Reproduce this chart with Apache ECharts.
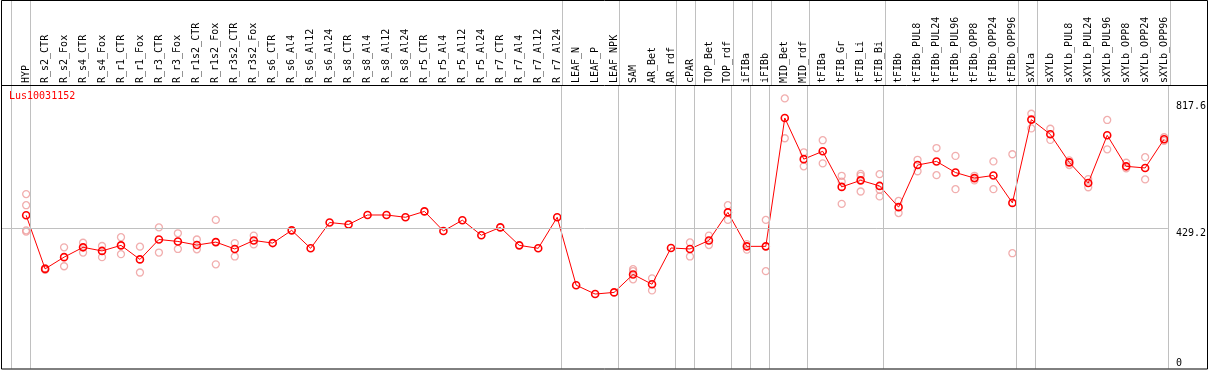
<!DOCTYPE html>
<html>
<head>
<meta charset="utf-8">
<script src="https://cdn.jsdelivr.net/npm/echarts@6/dist/echarts.min.js"></script>
<style>
html,body{margin:0;padding:0;background:#fff;}
#chart{width:1209px;height:370px;}
</style>
</head>
<body>
<div id="chart"></div>
<script>
const TITLE = 'Lus10031152';
const CATEGORIES = ['HYP','R_s2_CTR','R_s2_Fox','R_s4_CTR','R_s4_Fox','R_r1_CTR','R_r1_Fox','R_r3_CTR','R_r3_Fox',
  'R_r1s2_CTR','R_r1s2_Fox','R_r3s2_CTR','R_r3s2_Fox','R_s6_CTR','R_s6_Al4','R_s6_Al12','R_s6_Al24',
  'R_s8_CTR','R_s8_Al4','R_s8_Al12','R_s8_Al24','R_r5_CTR','R_r5_Al4','R_r5_Al12','R_r5_Al24',
  'R_r7_CTR','R_r7_Al4','R_r7_Al12','R_r7_Al24','LEAF_N','LEAF_P','LEAF_NPK','SAM','AR_Bet','AR_rdf',
  'cPAR','TOP_Bet','TOP_rdf','iFIBa','iFIBb','MID_Bet','MID_rdf','tFIBa','tFIB_Gr','tFIB_Li','tFIB_Bi',
  'tFIBb','tFIBb_PUL8','tFIBb_PUL24','tFIBb_PUL96','tFIBb_OPP8','tFIBb_OPP24','tFIBb_OPP96',
  'sXYLa','sXYLb','sXYLb_PUL8','sXYLb_PUL24','sXYLb_PUL96','sXYLb_OPP8','sXYLb_OPP24','sXYLb_OPP96'];
const MEAN_VALUES = [
  469, 305, 341, 371, 360, 377, 334, 395, 389, 378,
  387, 366, 392, 384, 423, 368, 447, 441, 470, 470,
  463, 481, 421, 454, 408, 432, 377, 368, 463, 255,
  228, 233, 288, 258, 369, 366, 392, 478, 374, 374,
  767, 641, 665, 556, 576, 559, 494, 623, 634, 600,
  583, 591, 507, 762, 717, 631, 568, 714, 619, 614,
  702];
const REPLICATES = [
  [534,500,423,419],[302,307],[371,313],[385,355],[375,341],[402,350],[373,294],[432,355],[414,366],[395,365],
  [455,319],[384,343],[407,380],[],[],[],[],[],[],[],
  [],[],[],[],[],[],[],[],[],[],
  [],[],[304,298,273],[276,239],[],[386,343],[407,378],[500,455],[381,364],[455,298],
  [827,705],[662,619],[699,628],[590,572,504],[596,590,542],[595,547,527],[513,476],[639,604],[675,592],[651,549],
  [590,576],[634,549],[656,353],[780,735],[734,700],[637,623],[580,555],[761,671],[630,613],[647,579],
  [708,697]];
// column boundaries (group separators), in column units
const GROUP_BOUNDS = [0,1,29,32,35,36,38,39,40,42,46,53,54,61];
const Y_TICKS = [0, 429.2, 817.6];
const HLINE_VALUE = 429.2;

const OFF = 0.8;          // point offset inside its column
const XMIN = -10/19, XMAX = 61;
const YMAX = 868;
const FONT = 'DejaVu Sans Mono';
const GRAY = '#c0c0c0';

const meanData = MEAN_VALUES.map((v,i)=>[i+OFF, v]);
const repData = [];
REPLICATES.forEach((arr,i)=>arr.forEach(v=>repData.push([i+OFF, v])));

const sepLines = GROUP_BOUNDS.map(b=>({xAxis:b}));
const mlBase = {silent:true, symbol:['none','none'], label:{show:false}, animation:false,
  lineStyle:{color:GRAY, width:1, type:'solid'}, emphasis:{disabled:true}};

const chart = echarts.init(document.getElementById('chart'), null, {renderer:'canvas'});
chart.setOption({
  animation:false,
  backgroundColor:'#fff',
  title:{text:TITLE, left:9, top:91, padding:0,
    textStyle:{color:'#ff0000', fontSize:10, fontWeight:'normal', fontFamily:FONT}},
  grid:[
    {left:1, right:39, top:85, height:283.5},
    {left:1, right:39, top:0, height:85}
  ],
  xAxis:[
    {type:'value', gridIndex:0, min:XMIN, max:XMAX, position:'top',
     axisLine:{show:false}, axisTick:{show:false}, splitLine:{show:false},
     axisLabel:{show:true, customValues:CATEGORIES.map((_,i)=>i+OFF), rotate:90, margin:2,
       fontFamily:FONT, fontSize:10, color:'#000', hideOverlap:false,
       formatter:(v)=>CATEGORIES[Math.round(v-OFF)] || ''}},
    {type:'value', gridIndex:1, min:XMIN, max:XMAX, show:false}
  ],
  yAxis:[
    {type:'value', gridIndex:0, min:0, max:YMAX, position:'right',
     axisLine:{show:false}, axisTick:{show:false}, splitLine:{show:false},
     axisLabel:{customValues:Y_TICKS.filter(v=>v!==0), verticalAlign:'top', margin:8,
       fontFamily:FONT, fontSize:10, color:'#000', formatter:(v)=>String(v)}},
    {type:'value', gridIndex:0, min:0, max:YMAX, position:'right',
     axisLine:{show:false}, axisTick:{show:false}, splitLine:{show:false},
     axisLabel:{customValues:Y_TICKS.filter(v=>v===0), verticalAlign:'bottom', margin:8,
       fontFamily:FONT, fontSize:10, color:'#000', formatter:(v)=>String(v)}},
    {type:'value', gridIndex:1, min:0, max:1, show:false}
  ],
  series:[
    {type:'line', xAxisIndex:1, yAxisIndex:2, data:[], silent:true,
     markLine:Object.assign({}, mlBase, {data:sepLines})},
    {type:'scatter', xAxisIndex:0, yAxisIndex:0, data:repData, silent:true, z:2,
     symbol:'circle', symbolSize:7,
     itemStyle:{color:'rgba(0,0,0,0)', borderColor:'#ee9a9a', borderWidth:1.3},
     markLine:Object.assign({}, mlBase, {data:sepLines.concat([{yAxis:HLINE_VALUE}])})},
    {type:'line', xAxisIndex:0, yAxisIndex:0, data:meanData, silent:true, z:3,
     symbol:'circle', symbolSize:7, showAllSymbol:true,
     lineStyle:{color:'#ff0000', width:1},
     itemStyle:{color:'rgba(0,0,0,0)', borderColor:'#ff0000', borderWidth:1.6}}
  ],
  graphic:[
    {type:'rect', silent:true, z:100, shape:{x:1.5, y:0.5, width:1206, height:368.5},
     style:{fill:'none', stroke:'#000', lineWidth:1}},
    {type:'line', silent:true, z:100, shape:{x1:1, y1:85.5, x2:1208, y2:85.5},
     style:{stroke:'#000', lineWidth:1}}
  ]
});
</script>
</body>
</html>
